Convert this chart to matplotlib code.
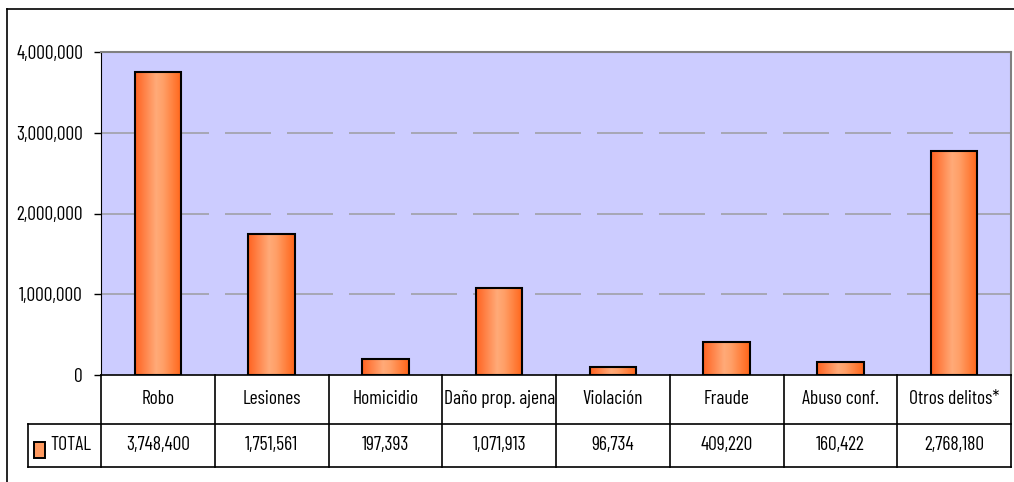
import numpy as np
import matplotlib
matplotlib.use("Agg")
import matplotlib.pyplot as plt
from matplotlib.colors import LinearSegmentedColormap
from matplotlib.lines import Line2D
from matplotlib.patches import Rectangle

plt.rcParams['font.family'] = ['Barlow Condensed', 'DejaVu Sans']

categories = ["Robo", "Lesiones", "Homicidio", "Daño prop. ajena", "Violación",
              "Fraude", "Abuso conf.", "Otros delitos*"]
values = [3748400, 1751561, 197393, 1071913, 96734, 409220, 160422, 2768180]
series_name = "TOTAL"
yticks = [0, 1000000, 2000000, 3000000, 4000000]

W, H = 1014, 482
FS = 14
fig = plt.figure(figsize=(W / 100, H / 100), dpi=100)

def fx(px): return px / W
def fy(py): return 1 - py / H

# plot area in pixel coords
L, R, T, B = 101, 1011, 52, 375
ax = fig.add_axes([fx(L), fy(B), fx(R) - fx(L), fy(T) - fy(B)])
ax.set_facecolor("#CCCCFF")
n = len(categories)
for s in ["top", "right"]:
    ax.spines[s].set_color("#808080")
    ax.spines[s].set_linewidth(1.5)
ax.spines["left"].set_color("black")
ax.spines["bottom"].set_color("black")
ax.spines["bottom"].set_linewidth(1.2)
ax.set_xticks([])
ax.set_yticks(yticks)
ax.set_yticklabels([f"{v:,}" for v in yticks], fontsize=FS)
ax.tick_params(axis="y", length=5, width=1, pad=8)
for v in yticks[1:-1]:
    ax.axhline(v, color="#A0A0A8", lw=1.2, dashes=(27.6, 9.6), zorder=1)

# bars with horizontal gradient
cmap = LinearSegmentedColormap.from_list(
    "bar", [(0, "#FF6220"), (0.45, "#FFAA78"), (0.6, "#FFA068"), (1, "#FF6418")])
grad = np.linspace(0, 1, 256).reshape(1, -1)
bw = 0.41
bars = ax.bar(range(n), values, width=bw, color="none", edgecolor="black",
              linewidth=1.5, zorder=3)
for b in bars:
    x0, y0 = b.get_x(), b.get_y()
    im = ax.imshow(grad, cmap=cmap, aspect="auto", zorder=2,
                   extent=[x0, x0 + b.get_width(), y0, y0 + b.get_height()])
    clip = Rectangle((x0, y0), b.get_width(), b.get_height(), transform=ax.transData)
    im.set_clip_path(clip)
ax.set_xlim(-0.5, n - 0.5)
ax.set_ylim(0, 4000000)

# data table
def hline(y, x0, x1, lw=1.2, c="black"):
    fig.add_artist(Line2D([fx(x0), fx(x1)], [fy(y), fy(y)], color=c, lw=lw))

def vline(x, y0, y1, lw=1.2, c="black"):
    fig.add_artist(Line2D([fx(x), fx(x)], [fy(y0), fy(y1)], color=c, lw=lw))

row1, row2, row3 = 375, 424, 467
cw = (R - L) / n
hline(row2, 28, R)
hline(row3, 28, R)
vline(28, row2, row3)
for i in range(n + 1):
    vline(L + i * cw, row1, row3)
for i, (c, v) in enumerate(zip(categories, values)):
    cx = L + (i + 0.5) * cw
    fig.text(fx(cx), fy((row1 + row2) / 2), c, ha="center", va="center", fontsize=FS)
    fig.text(fx(cx), fy((row2 + row3) / 2), f"{v:,}", ha="center", va="center", fontsize=FS)

# legend key
fig.add_artist(Rectangle((fx(34), fy(458)), fx(45) - fx(34), fy(442) - fy(458),
                         facecolor="#FF9A60", edgecolor="black", lw=1.4))
fig.text(fx(50), fy((row2 + row3) / 2), series_name, ha="left", va="center", fontsize=FS)

# outer chart border
hline(9, 7, W)
vline(7, 9, H)

fig.savefig("out.png", dpi=100)
